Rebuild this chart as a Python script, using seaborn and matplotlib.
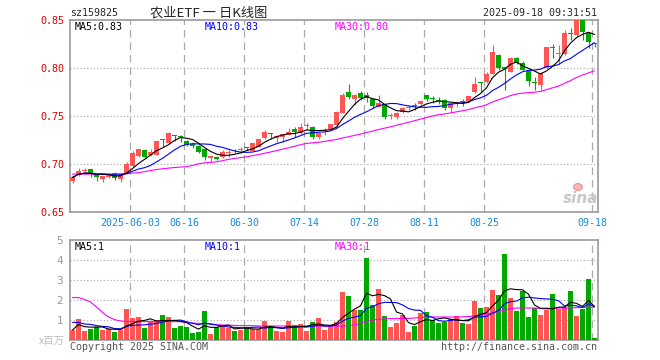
import pandas as pd
import matplotlib
matplotlib.use("Agg")
import matplotlib.pyplot as plt
from matplotlib.patches import Ellipse
import seaborn as sns

# tick labels on the date axis and the bar index they sit on
date_labels = ["2025-06-03", "06-16", "06-30", "07-14", "07-28", "08-11", "08-25", "09-18"]
date_pos = [10, 19, 29, 39, 49, 59, 69, 87]

opens = [.682, .6885, .6925, .6945, .689, .6845, .6865, .691, .6845, .6905,
         .698, .708, .715, .7095, .7095, .7255, .722, .7295, .7288, .7235,
         .7205, .7187, .7153, .7066, .7076, .7069, .7115, .7125, .7146, .7181,
         .7139, .7181, .7274, .732, .7275, .7285, .7306, .7368, .7326, .74,
         .7389, .7278, .734, .7365, .7406, .7535, .7753, .7677, .7736, .7715,
         .7682, .7597, .7625, .7505, .7493, .7538, .758, .7615, .7625, .7722,
         .7684, .7667, .7667, .758, .7632, .765, .766, .7745, .7845, .785,
         .7941, .8135, .8007, .796, .8101, .8055, .7965, .785, .7823, .7997,
         .821, .8145, .815, .8355, .834, .85, .8361, .8257]
highs = [.687, .6955, .6955, .695, .6895, .688, .6905, .692, .691, .7025,
         .7135, .716, .7155, .716, .725, .7258, .7335, .7298, .730, .7245,
         .7225, .7195, .7155, .7094, .708, .7146, .7146, .7153, .7174, .7181,
         .7222, .7262, .7354, .7323, .730, .7312, .7378, .7389, .7431, .7424,
         .7392, .7333, .7375, .742, .7548, .7736, .7833, .7726, .7764, .7745,
         .7684, .7722, .7628, .7528, .7537, .7594, .7615, .7639, .767, .7722,
         .7708, .7694, .7677, .7639, .7649, .7674, .7712, .7905, .7858, .796,
         .824, .8142, .8014, .8115, .8111, .807, .7975, .7905, .7955, .8222,
         .8245, .8235, .84, .8413, .85, .85, .8365, .8262]
lows = [.680, .688, .690, .6865, .6826, .681, .6855, .683, .681, .690,
        .697, .7075, .706, .708, .709, .7175, .722, .7235, .7225, .7185,
        .717, .711, .7042, .7024, .7042, .7065, .7076, .7111, .7111, .7146,
        .7135, .7178, .7264, .7257, .7233, .7233, .730, .7285, .7316, .7355,
        .7264, .7257, .730, .7355, .739, .753, .7674, .7615, .7667, .765,
        .758, .759, .7465, .7465, .747, .753, .7563, .7563, .761, .766,
        .7639, .7625, .756, .7545, .7597, .7604, .7645, .774, .7755, .7845,
        .7938, .798, .777, .7955, .8045, .7975, .7815, .7775, .7775, .799,
        .81, .804, .814, .8292, .8335, .829, .8205, .8222]
closes = [.686, .6925, .693, .6895, .686, .6875, .689, .6855, .690, .7005,
          .711, .7155, .707, .7125, .7235, .725, .7325, .729, .728, .7195,
          .7188, .7128, .7069, .708, .7049, .7128, .7128, .712, .7153, .7167,
          .7222, .726, .733, .7313, .7295, .7309, .733, .7337, .7389, .741,
          .7278, .7326, .7354, .7418, .7545, .7722, .7701, .7719, .769, .7685,
          .7606, .7639, .7486, .751, .7535, .7587, .7597, .7608, .766, .7674,
          .7677, .766, .758, .7632, .7639, .7645, .771, .7832, .784, .7941,
          .817, .7997, .7985, .8101, .8055, .7979, .786, .7845, .795, .8215,
          .8205, .816, .8365, .835, .85, .8375, .8274, .8245]
# volume in millions
volumes = [0.5, 1.05, 0.45, 0.57, 0.67, 0.52, 0.53, 0.4, 0.5, 1.55,
           1.1, 1.15, 0.6, 0.9, 0.98, 1.25, 1.15, 0.6, 0.7, 0.67,
           0.35, 0.4, 1.45, 0.3, 0.65, 0.75, 0.6, 0.45, 0.5, 0.67,
           0.55, 0.55, 0.95, 0.65, 0.45, 0.4, 0.95, 0.75, 0.8, 0.45,
           0.9, 1.1, 0.5, 0.7, 0.92, 2.4, 2.2, 1.5, 1.5, 4.1,
           1.75, 2.55, 1.2, 0.65, 0.85, 1.25, 0.4, 0.7, 1.37, 1.4,
           1.0, 0.85, 0.9, 1.05, 1.2, 0.85, 0.8, 1.95, 1.6, 1.65,
           2.5, 2.25, 4.3, 2.1, 1.45, 2.45, 1.15, 1.6, 1.25, 1.5,
           2.3, 1.55, 1.65, 2.45, 1.2, 1.55, 3.05, 0.1]

# the chart's averages use days before the window, so their first points
# are read off the picture instead of computed
ma30_head = [.6895, .6895, .6895, .6895, .6895, .6895, .6895, .6896, .6898, .690,
             .6905, .691, .692, .6932, .6942, .695, .6957, .6963, .6968, .6972,
             .6985, .7002, .7012, .7018, .7022, .7035, .7048, .7058, .7066]
vma10_head = [0.88, 0.88, 0.8, 0.78, 0.72, 0.68, 0.66, 0.57, 0.56]
vol_ma30 = [2.12, 2.12, 2.03, 1.9, 1.65, 1.38, 1.15, 1.02, 0.95, 0.93,
            0.93, 0.92, 0.92, 0.92, 0.92, 0.92, 0.92, 0.92, 0.92, 0.87,
            0.85, 0.83, 0.82, 0.82, 0.76, 0.75, 0.74, 0.73, 0.72, 0.72,
            0.72, 0.7, 0.7, 0.7, 0.7, 0.7, 0.7, 0.7, 0.7, 0.7,
            0.7, 0.7, 0.7, 0.7, 0.7, 0.7, 0.72, 0.76, 0.83, 0.92,
            1.0, 1.03, 1.05, 1.07, 1.07, 1.08, 1.08, 1.1, 1.12, 1.15,
            1.15, 1.15, 1.15, 1.15, 1.15, 1.16, 1.17, 1.2, 1.25, 1.3,
            1.35, 1.42, 1.5, 1.57, 1.6, 1.6, 1.6, 1.6, 1.58, 1.55,
            1.57, 1.6, 1.6, 1.6, 1.62, 1.63, 1.64, 1.65]

RED = "#ff5555"
GREEN = "#00a800"
GRID = "#aaaaaa"

df = pd.DataFrame({"o": opens, "h": highs, "l": lows, "c": closes, "vol": volumes, "vma30": vol_ma30})
df["x"] = range(len(df))
df["dir"] = ["up" if c >= o else "down" for o, c in zip(df.o, df.c)]
df["ma5"] = df.c.rolling(5, min_periods=1).mean()
df["ma10"] = df.c.rolling(10, min_periods=1).mean()
df["ma30"] = df.c.rolling(30).mean()
df.loc[:len(ma30_head) - 1, "ma30"] = ma30_head
df["vma5"] = df.vol.rolling(5, min_periods=1).mean()
df["vma10"] = df.vol.rolling(10).mean()
df.loc[:len(vma10_head) - 1, "vma10"] = vma10_head
colors = [RED if d == "up" else GREEN for d in df.dir]

sns.set_style("white")
plt.rcParams["font.family"] = ["DejaVu Sans Mono", "Noto Sans CJK SC"]

W, H = 660, 360
fig = plt.figure(figsize=(6.6, 3.6), dpi=100)
ax = fig.add_axes([70 / W, 148 / H, 528 / W, 192 / H])
axv = fig.add_axes([70 / W, 20 / H, 528 / W, 100 / H])

xlim = (-2.5 / 6, 88 - 2.5 / 6)

# candles
body = [max(abs(c - o), 0.001) for o, c in zip(df.o, df.c)]
bottom = [min(o, c) for o, c in zip(df.o, df.c)]
ax.vlines(df.x, df.l, df.h, colors=colors, linewidth=0.8, zorder=2)
ax.bar(df.x, body, bottom=bottom, width=5 / 6, color=colors, linewidth=0, zorder=3)

sns.lineplot(x=df.x, y=df.ma30, ax=ax, color="#ff00ff", linewidth=0.8, zorder=4)
sns.lineplot(x=df.x, y=df.ma10, ax=ax, color="#0000ff", linewidth=0.8, zorder=4)
sns.lineplot(x=df.x, y=df.ma5, ax=ax, color="black", linewidth=0.8, zorder=4)

# volume
sns.barplot(data=df, x="x", y="vol", hue="dir", palette={"up": RED, "down": GREEN},
            native_scale=True, width=5 / 6, dodge=False, saturation=1, legend=False,
            linewidth=0, errorbar=None, ax=axv, zorder=3)
sns.lineplot(x=df.x, y=df.vma30, ax=axv, color="#ff00ff", linewidth=0.8, zorder=4)
sns.lineplot(x=df.x, y=df.vma10, ax=axv, color="#0000ff", linewidth=0.8, zorder=4)
sns.lineplot(x=df.x, y=df.vma5, ax=axv, color="black", linewidth=0.8, zorder=4)

grid_x = [p - 0.4 for p in date_pos]
for a, ys in ((ax, [0.70, 0.75, 0.80]), (axv, [1, 2, 3, 4])):
    for y in ys:
        a.axhline(y, color=GRID, linewidth=0.8, linestyle=(0, (1, 2)), zorder=1)
    for gx in grid_x:
        a.axvline(gx, color=GRID, linewidth=0.9, linestyle=(0, (6, 4)), zorder=1)
    a.set_xlim(*xlim)
    a.set_xlabel("")
    a.set_ylabel("")
    for s in a.spines.values():
        s.set_color("#999999")
        s.set_linewidth(1.2)

ax.set_ylim(0.65, 0.85)
ax.set_yticks([0.65, 0.70, 0.75, 0.80, 0.85])
ax.set_yticklabels(["0.65", "0.70", "0.75", "0.80", "0.85"], color="#e00000", fontsize=7.2)
ax.set_xticks(grid_x)
ax.set_xticklabels(date_labels, color="#1a8ad8", fontsize=7.2)
ax.tick_params(length=0, pad=4)

axv.set_ylim(0, 5)
axv.set_yticks([1, 2, 3, 4, 5])
axv.set_yticklabels(["1", "2", "3", "4", "5"], color="#999999", fontsize=7.5, family="DejaVu Sans")
axv.set_xticks([])
axv.tick_params(length=0, pad=5)


def ftext(x, y, s, **kw):
    kw.setdefault("va", "center")
    kw.setdefault("fontsize", 7.2)
    fig.text(x / W, 1 - y / H, s, **kw)


ftext(70, 13, "sz159825")
ftext(209, 13, "农业ETF 一 日K线图", ha="center", fontsize=9.5,
      family=["Noto Sans CJK SC", "DejaVu Sans"])
ftext(597, 13, "2025-09-18 09:31:51", ha="right")

ftext(75, 27, "MA5:0.83", color="black")
ftext(205, 27, "MA10:0.83", color="#0000ff")
ftext(335, 27, "MA30:0.80", color="#ff00ff")
ftext(75, 247, "MA5:1", color="black")
ftext(205, 247, "MA10:1", color="#0000ff")
ftext(335, 247, "MA30:1", color="#ff00ff")

ftext(65, 341, "x百万", ha="right", color="#bbbbbb", fontsize=7.5,
      family=["Noto Sans CJK SC", "DejaVu Sans"])
ftext(70, 347, "Copyright 2025 SINA.COM", color="#555555")
ftext(597, 347, "http://finance.sina.com.cn", ha="right", color="#555555")
# watermark: small eye mark above the word
fig.add_artist(Ellipse((578 / W, 1 - 187 / H), 9 / W, 7 / H, transform=fig.transFigure,
                       facecolor="#f5b5b5", edgecolor="#e88888", linewidth=0.6))
ftext(581, 198, "sina", ha="center", color="#c8c8c8", fontsize=11,
      style="italic", weight="bold", family="DejaVu Sans")

fig.savefig("out.png", dpi=100)
